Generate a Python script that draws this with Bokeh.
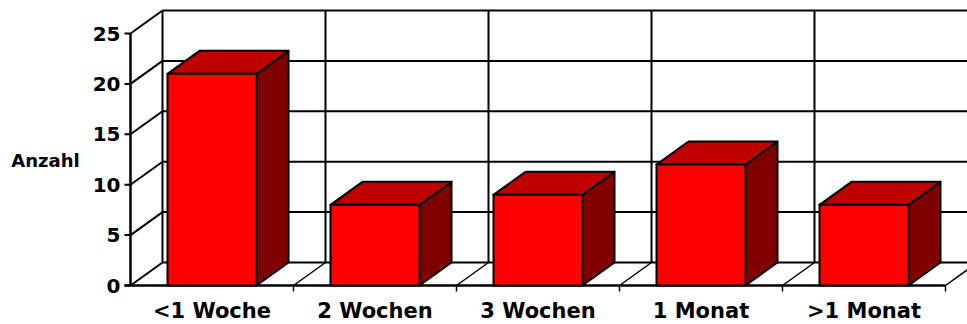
from bokeh.plotting import figure
from bokeh.models import Range1d
from bokeh.core.properties import value
from bokeh.embed import file_html
from bokeh.resources import INLINE

# ---- data ----
categories = ["<1 Woche", "2 Wochen", "3 Wochen", "1 Monat", ">1 Monat"]
counts = [21, 8, 9, 12, 8]
y_ticks = [0, 5, 10, 15, 20, 25]
y_label = "Anzahl"

# ---- geometry / style (not data) ----
W, H = 967, 324
PX_X = 163.0          # pixels per category
PX_Y = 10.08          # pixels per unit
X0, Y0 = 130, 285     # front origin pixel
DX = 32 / PX_X        # depth offset in category units
DY = 23 / PX_Y        # depth offset in value units
BAR_W = 89 / PX_X
FONT = "DejaVu Sans"

p = figure(width=W, height=H, output_backend="svg", toolbar_location=None,
           x_range=Range1d(-X0 / PX_X, (W - X0) / PX_X),
           y_range=Range1d(-(H - Y0) / PX_Y, Y0 / PX_Y),
           min_border=0, outline_line_color=None)
p.axis.visible = False
p.grid.visible = False
p.background_fill_color = "white"
p.border_fill_color = "white"

n = len(categories)
ymax = max(y_ticks)
xr = (W - X0) / PX_X + 0.5

# back wall horizontal gridlines
p.segment(x0=[DX] * len(y_ticks), y0=[t + DY for t in y_ticks],
          x1=[xr] * len(y_ticks), y1=[t + DY for t in y_ticks],
          line_color="black", line_width=2)
# back wall vertical lines
p.segment(x0=[i + DX for i in range(n + 1)], y0=[DY] * (n + 1),
          x1=[i + DX for i in range(n + 1)], y1=[ymax + DY] * (n + 1),
          line_color="black", line_width=2)
# left wall diagonals
p.segment(x0=[0] * len(y_ticks), y0=y_ticks,
          x1=[DX] * len(y_ticks), y1=[t + DY for t in y_ticks],
          line_color="black", line_width=2)
# floor diagonals
p.segment(x0=list(range(1, n + 1)), y0=[0] * n,
          x1=[i + DX for i in range(1, n + 1)], y1=[DY] * n,
          line_color="black", line_width=1.5)
# front floor edge
p.segment(x0=[-6 / PX_X], y0=[0], x1=[n], y1=[0], line_color="black", line_width=2.5)
# front y axis
p.segment(x0=[0], y0=[0], x1=[0], y1=[ymax], line_color="black", line_width=2.5)
# y ticks
p.segment(x0=[-6 / PX_X] * len(y_ticks), y0=y_ticks, x1=[0] * len(y_ticks), y1=y_ticks,
          line_color="black", line_width=2)
# category ticks
p.segment(x0=list(range(1, n + 1)), y0=[0] * n, x1=list(range(1, n + 1)),
          y1=[-6 / PX_Y] * n, line_color="black", line_width=1.5)

# bars
fx, fy, tx, ty, sx, sy = [], [], [], [], [], []
for i, v in enumerate(counts):
    l = i + 0.5 - BAR_W / 2
    r = i + 0.5 + BAR_W / 2
    fx.append([l, r, r, l]); fy.append([0, 0, v, v])
    tx.append([l, r, r + DX, l + DX]); ty.append([v, v, v + DY, v + DY])
    sx.append([r, r + DX, r + DX, r]); sy.append([0, DY, v + DY, v])
p.patches(sx, sy, fill_color="#800000", line_color="black", line_width=2, line_join="round")
p.patches(tx, ty, fill_color="#C00000", line_color="black", line_width=2, line_join="round")
p.patches(fx, fy, fill_color="#FF0000", line_color="black", line_width=2, line_join="round")

# tick labels
p.text(x=[-10 / PX_X] * len(y_ticks), y=y_ticks, text=[str(t) for t in y_ticks],
       text_align="right", text_baseline="middle", text_font=value(FONT),
       text_font_style="bold", text_font_size="20px", text_color="black")
# category labels
p.text(x=[i + 0.5 for i in range(n)], y=[-25 / PX_Y] * n, text=categories,
       text_align="center", text_baseline="middle", text_font=value(FONT),
       text_font_style="bold", text_font_size="21px", text_color="black")
# axis title
p.text(x=[-85 / PX_X], y=[125 / PX_Y], text=[y_label],
       text_align="center", text_baseline="middle", text_font=value(FONT),
       text_font_style="bold", text_font_size="18px", text_color="black")

open("out.html", "w").write(file_html(p, INLINE))
